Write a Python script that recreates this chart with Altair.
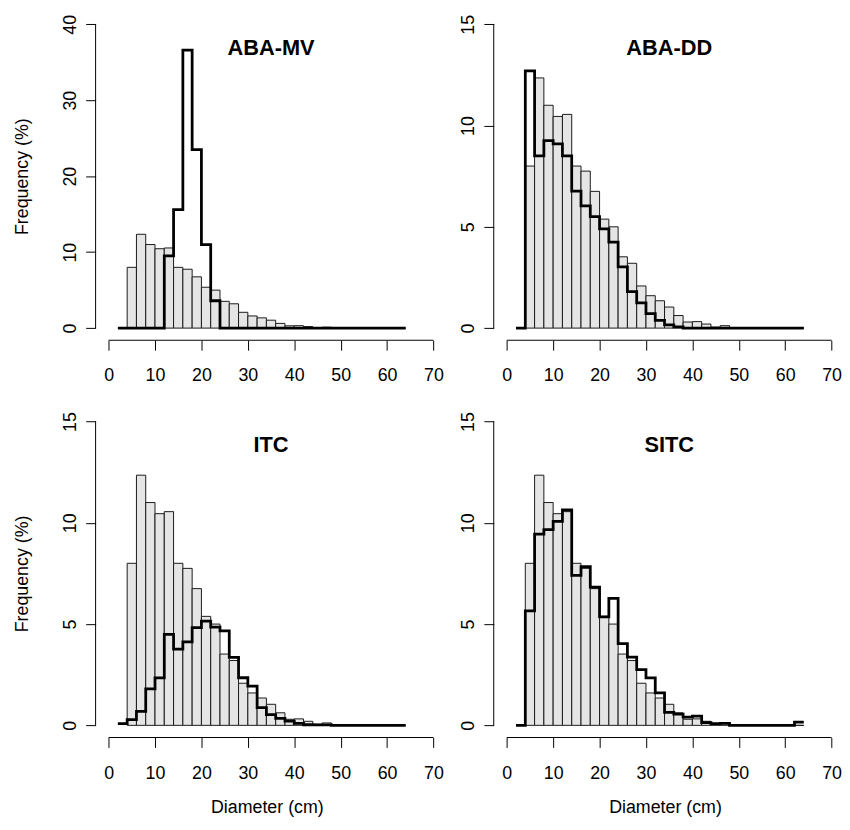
import altair as alt
import pandas as pd

# bin edges (cm)
edges = [2, 4, 6, 8, 10, 12, 14, 16, 18, 20, 22, 24, 26, 28, 30, 32,
         34, 36, 38, 40, 42, 44, 46, 48, 50, 52, 54, 56, 58, 60, 62, 64]
x_ticks = [0, 10, 20, 30, 40, 50, 60, 70]

# reference (field) distribution, bins 4-6 ... 62-64 (%)
ref_freq = [8.0, 12.35, 11.0, 10.45, 10.55, 8.0, 7.75, 6.75, 5.38, 5.0,
            3.52, 3.2, 2.08, 1.6, 1.35, 1.04, 0.62, 0.3, 0.32, 0.2,
            0.05, 0.12, 0, 0, 0, 0, 0, 0, 0, 0]

# estimated distributions, bins 2-4 ... 62-64 (%)
aba_mv = [0, 0, 0, 0, 0, 9.5, 15.6, 36.6, 23.5, 11.0, 3.6,
          0, 0, 0, 0, 0, 0, 0, 0, 0, 0, 0, 0, 0, 0, 0, 0, 0, 0, 0, 0]
aba_dd = [0, 12.7, 8.5, 9.25, 9.1, 8.5, 6.76, 6.03, 5.5, 4.9, 4.25,
          3.02, 1.8, 1.24, 0.72, 0.38, 0.16, 0.06, 0, 0, 0, 0, 0, 0,
          0, 0, 0, 0, 0, 0, 0]
itc = [0.08, 0.28, 0.69, 1.8, 2.34, 4.49, 3.76, 4.12, 4.82, 5.15, 4.85,
       4.66, 3.36, 2.35, 1.94, 0.88, 0.53, 0.35, 0.21, 0.1, 0.03, 0.02,
       0.02, 0, 0, 0, 0, 0, 0, 0, 0]
sitc = [0, 5.65, 9.44, 9.66, 10.07, 10.64, 7.4, 7.84, 6.82, 5.35, 6.27,
        4.04, 3.37, 2.75, 2.34, 1.6, 0.64, 0.55, 0.41, 0.45, 0.13, 0.08,
        0.1, 0, 0, 0, 0, 0, 0, 0, 0.16]

FONT = "Liberation Sans"
W = 346
H = 331.5
XDOM = [-2.8, 71.0]


def panel(title, est, ydom, yticks, left, bottom):
    bars_df = pd.DataFrame({"x0": edges[1:-1], "x1": edges[2:], "freq": ref_freq})
    step_df = pd.DataFrame({"x0": edges, "freq": est + est[-1:]})
    xrule_df = pd.DataFrame({"x0": [x_ticks[0]], "x1": [x_ticks[-1]]})
    yrule_df = pd.DataFrame({"freq": [yticks[0]], "f2": [yticks[-1]]})
    title_df = pd.DataFrame({"label": [title], "x0": [35]})

    xaxis_kw = dict(values=x_ticks, tickSize=10, tickColor="black", labelPadding=17,
                    labelFontSize=18, labelFont=FONT, labelColor="black",
                    domain=False, grid=False, labelFlush=False)
    if bottom:
        xaxis_kw.update(title="Diameter (cm)", titleFontSize=18, titleFont=FONT,
                        titleFontWeight="normal", titleColor="black", titleY=76,
                        titleBaseline="alphabetic")
    else:
        xaxis_kw.update(title=None)
    yaxis_kw = dict(values=yticks, tickSize=10, tickColor="black", labelPadding=10,
                    labelFontSize=18, labelFont=FONT, labelColor="black",
                    labelAngle=270, labelAlign="center", labelBaseline="alphabetic",
                    domain=False, grid=False, labelFlush=False)
    if left:
        yaxis_kw.update(title="Frequency (%)", titleFontSize=18, titleFont=FONT,
                        titleFontWeight="normal", titleColor="black", titleAngle=270,
                        titleX=-68.5, titleY=H / 2, titleAlign="center",
                        titleBaseline="alphabetic")
    else:
        yaxis_kw.update(title=None)

    xscale = alt.Scale(domain=XDOM, nice=False, zero=False)
    yscale = alt.Scale(domain=ydom, nice=False, zero=False)

    def X(f):
        return alt.X(f, type="quantitative", scale=xscale, axis=alt.Axis(**xaxis_kw))

    def Y(f):
        return alt.Y(f, type="quantitative", scale=yscale, axis=alt.Axis(**yaxis_kw))

    bars = alt.Chart(bars_df).mark_bar(fill="#e5e5e5", stroke="#1a1a1a", strokeWidth=1).encode(
        x=X("x0"), x2="x1:Q", y=Y("freq"), y2=alt.datum(0))
    line = alt.Chart(step_df).mark_line(interpolate="step-after", color="black",
                                        strokeWidth=2.8).encode(x=X("x0"), y=Y("freq"))
    xrule = alt.Chart(xrule_df).mark_rule(color="black", strokeWidth=1).encode(
        x=X("x0"), x2="x1:Q", y=alt.value(H))
    yrule = alt.Chart(yrule_df).mark_rule(color="black", strokeWidth=1).encode(
        y=Y("freq"), y2="f2:Q", x=alt.value(0))
    ttl = alt.Chart(title_df).mark_text(font=FONT, fontSize=22, fontWeight="bold",
                                        baseline="alphabetic", align="center",
                                        color="black").encode(
        x=X("x0"), y=alt.value(43.4), text="label:N")
    return alt.layer(bars, line, xrule, yrule, ttl).properties(width=W, height=H)


p1 = panel("ABA-MV", aba_mv, [-1.6, 41.6], [0, 10, 20, 30, 40], True, False)
p2 = panel("ABA-DD", aba_dd, [-0.6, 15.6], [0, 5, 10, 15], False, False)
p3 = panel("ITC", itc, [-0.6, 15.6], [0, 5, 10, 15], True, True)
p4 = panel("SITC", sitc, [-0.6, 15.6], [0, 5, 10, 15], False, True)

chart = alt.concat(p1, p2, p3, p4, columns=2,
                   spacing={"row": 69.3, "column": 56.2},
                   bounds="flush").properties(
    padding={"left": 5.5, "top": 0, "right": 0, "bottom": 0},
    background="white",
).configure_view(strokeWidth=0)

chart.save("out.html", embed_options={"renderer": "svg", "actions": False})
